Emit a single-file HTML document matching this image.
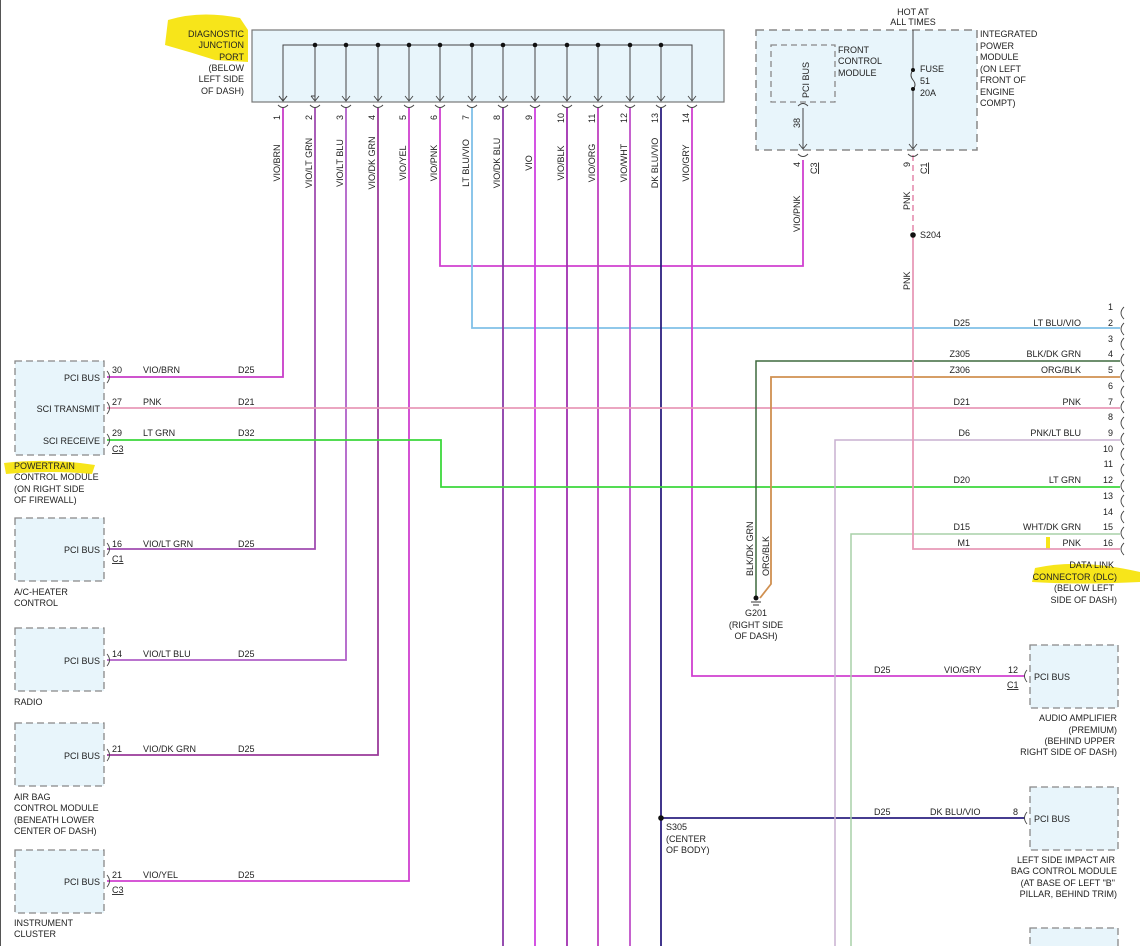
<!DOCTYPE html>
<html><head><meta charset="utf-8"><style>
html,body{margin:0;padding:0;background:#fff}
svg{display:block;font-family:"Liberation Sans",sans-serif;font-size:9.5px;fill:#222}
text{fill:#222}
</style></head><body>
<svg width="1140" height="946" viewBox="0 0 1140 946" xmlns="http://www.w3.org/2000/svg">
<line x1="0.5" y1="0" x2="0.5" y2="946" stroke="#555" stroke-width="1"/>
<!-- highlights -->
<path d="M168,20 Q200,10 240,18 L248,30 L248,62 L215,60 Q190,52 165,45 Z" fill="#f7e51a"/>
<path d="M4,463 Q50,458 95,465 L92,474 Q50,470 6,474 Z" fill="#f7e51a"/>
<path d="M1035,568 Q1080,558 1140,572 L1140,582 Q1080,585 1032,582 Z" fill="#f7e51a"/>
<rect x="1046" y="537" width="4" height="12" fill="#f7e51a"/>

<!-- DJP -->
<rect x="252" y="30" width="472" height="72" fill="#e8f5fb" stroke="#777" stroke-width="1.2"/>
<polyline points="283,100 283,45 692,45 692,100" fill="none" stroke="#444" stroke-width="1"/>
<g stroke="#444" stroke-width="1" fill="none">
<line x1="315" y1="45" x2="315" y2="100"/><line x1="346" y1="45" x2="346" y2="100"/><line x1="378" y1="45" x2="378" y2="100"/><line x1="409" y1="45" x2="409" y2="100"/><line x1="440" y1="45" x2="440" y2="100"/><line x1="472" y1="45" x2="472" y2="100"/><line x1="503" y1="45" x2="503" y2="100"/><line x1="535" y1="45" x2="535" y2="100"/><line x1="567" y1="45" x2="567" y2="100"/><line x1="598" y1="45" x2="598" y2="100"/><line x1="630" y1="45" x2="630" y2="100"/><line x1="661" y1="45" x2="661" y2="100"/>
</g>
<g fill="#111"><circle cx="315" cy="45" r="2.3"/><circle cx="346" cy="45" r="2.3"/><circle cx="378" cy="45" r="2.3"/><circle cx="409" cy="45" r="2.3"/><circle cx="440" cy="45" r="2.3"/><circle cx="472" cy="45" r="2.3"/><circle cx="503" cy="45" r="2.3"/><circle cx="535" cy="45" r="2.3"/><circle cx="567" cy="45" r="2.3"/><circle cx="598" cy="45" r="2.3"/><circle cx="630" cy="45" r="2.3"/><circle cx="661" cy="45" r="2.3"/></g>
<g font-size="9" text-anchor="end"><text x="244" y="37">DIAGNOSTIC</text><text x="244" y="48">JUNCTION</text><text x="244" y="60">PORT</text><text x="244" y="71">(BELOW</text><text x="244" y="82">LEFT SIDE</text><text x="244" y="94">OF DASH)</text></g>

<!-- wires from DJP -->
<g fill="none" stroke-width="1.8">
<polyline points="283,108 283,377 107,377" stroke="#c83cc8"/>
<polyline points="315,108 315,549 107,549" stroke="#a04cb0"/>
<polyline points="346,108 346,660 107,660" stroke="#b060c8"/>
<polyline points="378,108 378,755 107,755" stroke="#9a3a9a"/>
<polyline points="409,108 409,881 107,881" stroke="#d040d0"/>
<polyline points="440,108 440,266 803,266 803,160" stroke="#d040d0"/>
<polyline points="472,108 472,328 1120,328" stroke="#80c0e8"/>
<line x1="503" y1="108" x2="503" y2="946" stroke="#8a3aa8"/>
<line x1="535" y1="108" x2="535" y2="946" stroke="#d040e0"/>
<line x1="567" y1="108" x2="567" y2="946" stroke="#a030b0"/>
<line x1="598" y1="108" x2="598" y2="946" stroke="#c040c0"/>
<line x1="630" y1="108" x2="630" y2="946" stroke="#c050c8"/>
<line x1="661" y1="108" x2="661" y2="946" stroke="#2c2080"/>
<polyline points="692,108 692,676 1025,676" stroke="#d040d0"/>
<line x1="661" y1="818" x2="1025" y2="818" stroke="#2c2080"/>
<line x1="107" y1="408" x2="1120" y2="408" stroke="#e89ab8"/>
<polyline points="107,440 441,440 441,487 1120,487" stroke="#3cd83c"/>
<polyline points="756,598 756,361 1120,361" stroke="#3e6a3e" stroke-width="1.5"/>
<polyline points="760,598 771,584 771,377 1120,377" stroke="#d09050"/>
<polyline points="835,946 835,440 1120,440" stroke="#c8b0d0" stroke-width="1.5"/>
<polyline points="851,946 851,534 1120,534" stroke="#a8d0a8" stroke-width="1.5"/>
<line x1="913" y1="155" x2="913" y2="235" stroke="#e89ab8" stroke-dasharray="6,4"/>
<polyline points="913,235 913,549 1120,549" stroke="#e89ab8"/>
</g>
<!-- pin arrows / cups -->
<g fill="none" stroke="#444" stroke-width="1">
<path d="M279,96 L283,101 L287,96 M315,96 L311,96"/>
</g>
<g font-size="9" fill="#222">
<text transform="translate(280,120) rotate(-90)">1</text><text transform="translate(312,120) rotate(-90)">2</text><text transform="translate(343,120) rotate(-90)">3</text><text transform="translate(375,120) rotate(-90)">4</text><text transform="translate(406,120) rotate(-90)">5</text><text transform="translate(437,120) rotate(-90)">6</text><text transform="translate(469,120) rotate(-90)">7</text><text transform="translate(500,120) rotate(-90)">8</text><text transform="translate(532,120) rotate(-90)">9</text><text transform="translate(564,123) rotate(-90)">10</text><text transform="translate(595,123) rotate(-90)">11</text><text transform="translate(627,123) rotate(-90)">12</text><text transform="translate(658,123) rotate(-90)">13</text><text transform="translate(689,123) rotate(-90)">14</text>
</g>
<g font-size="9" text-anchor="middle">
<text transform="translate(280,163) rotate(-90)">VIO/BRN</text><text transform="translate(312,163) rotate(-90)">VIO/LT GRN</text><text transform="translate(343,163) rotate(-90)">VIO/LT BLU</text><text transform="translate(375,163) rotate(-90)">VIO/DK GRN</text><text transform="translate(406,163) rotate(-90)">VIO/YEL</text><text transform="translate(437,163) rotate(-90)">VIO/PNK</text><text transform="translate(469,163) rotate(-90)">LT BLU/VIO</text><text transform="translate(500,163) rotate(-90)">VIO/DK BLU</text><text transform="translate(532,163) rotate(-90)">VIO</text><text transform="translate(564,163) rotate(-90)">VIO/BLK</text><text transform="translate(595,163) rotate(-90)">VIO/ORG</text><text transform="translate(627,163) rotate(-90)">VIO/WHT</text><text transform="translate(658,163) rotate(-90)">DK BLU/VIO</text><text transform="translate(689,163) rotate(-90)">VIO/GRY</text>
</g>
<g fill="none" stroke="#444" stroke-width="0.9" id="arr">
<path d="M279,96 l4,5 l4,-5 M311,96 l4,5 l4,-5 M342,96 l4,5 l4,-5 M374,96 l4,5 l4,-5 M405,96 l4,5 l4,-5 M436,96 l4,5 l4,-5 M468,96 l4,5 l4,-5 M499,96 l4,5 l4,-5 M531,96 l4,5 l4,-5 M563,96 l4,5 l4,-5 M594,96 l4,5 l4,-5 M626,96 l4,5 l4,-5 M657,96 l4,5 l4,-5 M688,96 l4,5 l4,-5"/>
<path d="M278,105 q5,5 10,0 M310,105 q5,5 10,0 M341,105 q5,5 10,0 M373,105 q5,5 10,0 M404,105 q5,5 10,0 M435,105 q5,5 10,0 M467,105 q5,5 10,0 M498,105 q5,5 10,0 M530,105 q5,5 10,0 M562,105 q5,5 10,0 M593,105 q5,5 10,0 M625,105 q5,5 10,0 M656,105 q5,5 10,0 M687,105 q5,5 10,0"/>
</g>

<!-- IPM -->
<rect x="756" y="30" width="221" height="120" fill="#e8f5fb" stroke="#888" stroke-width="1.5" stroke-dasharray="8,5"/>
<rect x="771" y="45" width="64" height="57" fill="#e8f5fb" stroke="#888" stroke-width="1.3" stroke-dasharray="6,4"/>
<line x1="803" y1="108" x2="803" y2="148" stroke="#444"/>
<line x1="913" y1="30" x2="913" y2="70" stroke="#444"/><line x1="913" y1="89" x2="913" y2="148" stroke="#444"/>
<path d="M913,70 q-4,5 0,10 q4,5 0,9" fill="none" stroke="#444"/>
<circle cx="913" cy="70" r="2" fill="#111"/><circle cx="913" cy="89" r="2" fill="#111"/>
<path d="M799,144 l4,5 l4,-5 M909,144 l4,5 l4,-5 M798,106 q5,-5 10,0 M798,154 q5,5 10,0 M908,154 q5,5 10,0" fill="none" stroke="#444" stroke-width="0.9"/>
<circle cx="913" cy="235" r="2.8" fill="#111"/>
<g font-size="9"><text x="913" y="15" text-anchor="middle">HOT AT</text><text x="913" y="25" text-anchor="middle">ALL TIMES</text>
<text x="838" y="53">FRONT</text><text x="838" y="64">CONTROL</text><text x="838" y="76">MODULE</text>
<text transform="translate(809,98) rotate(-90)">PCI BUS</text>
<text x="920" y="72">FUSE</text><text x="920" y="84">51</text><text x="920" y="96">20A</text>
<text x="980" y="37">INTEGRATED</text><text x="980" y="49">POWER</text><text x="980" y="60">MODULE</text><text x="980" y="72">(ON LEFT</text><text x="980" y="83">FRONT OF</text><text x="980" y="95">ENGINE</text><text x="980" y="106">COMPT)</text>
<text transform="translate(800,128) rotate(-90)">38</text>
<text transform="translate(800,167) rotate(-90)">4</text><text transform="translate(817,174) rotate(-90)" text-decoration="underline">C3</text>
<text transform="translate(910,167) rotate(-90)">9</text><text transform="translate(927,174) rotate(-90)" text-decoration="underline">C1</text>
<text transform="translate(800,232) rotate(-90)">VIO/PNK</text>
<text transform="translate(910,210) rotate(-90)">PNK</text>
<text transform="translate(910,290) rotate(-90)">PNK</text>
<text x="920" y="238">S204</text>
</g>

<!-- DLC -->
<g font-size="9" text-anchor="end">
<text x="1113" y="310">1</text><text x="1113" y="326">2</text><text x="1113" y="342">3</text><text x="1113" y="357">4</text><text x="1113" y="373">5</text><text x="1113" y="389">6</text><text x="1113" y="405">7</text><text x="1113" y="420">8</text><text x="1113" y="436">9</text><text x="1113" y="452">10</text><text x="1113" y="467">11</text><text x="1113" y="483">12</text><text x="1113" y="499">13</text><text x="1113" y="515">14</text><text x="1113" y="530">15</text><text x="1113" y="546">16</text>
<text x="1081" y="326">LT BLU/VIO</text><text x="1081" y="357">BLK/DK GRN</text><text x="1081" y="373">ORG/BLK</text><text x="1081" y="405">PNK</text><text x="1081" y="436">PNK/LT BLU</text><text x="1081" y="483">LT GRN</text><text x="1081" y="530">WHT/DK GRN</text><text x="1081" y="546">PNK</text>
<text x="970" y="326">D25</text><text x="970" y="357">Z305</text><text x="970" y="373">Z306</text><text x="970" y="405">D21</text><text x="970" y="436">D6</text><text x="970" y="483">D20</text><text x="970" y="530">D15</text><text x="970" y="546">M1</text>
<text x="1114" y="568">DATA LINK</text><text x="1117" y="580">CONNECTOR (DLC)</text><text x="1114" y="591">(BELOW LEFT</text><text x="1117" y="603">SIDE OF DASH)</text>
</g>
<path fill="none" stroke="#444" stroke-width="0.9" d="M1124,307 q-6,6 0,12 M1124,323 q-6,6 0,12 M1124,338 q-6,6 0,12 M1124,354 q-6,6 0,12 M1124,370 q-6,6 0,12 M1124,386 q-6,6 0,12 M1124,401 q-6,6 0,12 M1124,417 q-6,6 0,12 M1124,433 q-6,6 0,12 M1124,448 q-6,6 0,12 M1124,464 q-6,6 0,12 M1124,480 q-6,6 0,12 M1124,495 q-6,6 0,12 M1124,511 q-6,6 0,12 M1124,527 q-6,6 0,12 M1124,543 q-6,6 0,12"/>
<!-- ground -->
<circle cx="756" cy="598" r="2.5" fill="#111"/><line x1="751" y1="602" x2="761" y2="602" stroke="#333"/><line x1="753" y1="605" x2="759" y2="605" stroke="#333"/>
<g font-size="9"><text transform="translate(753,576) rotate(-90)">BLK/DK GRN</text><text transform="translate(769,576) rotate(-90)">ORG/BLK</text>
<text x="756" y="616" text-anchor="middle">G201</text><text x="756" y="628" text-anchor="middle">(RIGHT SIDE</text><text x="756" y="639" text-anchor="middle">OF DASH)</text></g>

<!-- left modules -->
<g fill="#e8f5fb" stroke="#888" stroke-width="1.3" stroke-dasharray="7,4">
<rect x="15" y="361" width="89" height="94"/><rect x="15" y="518" width="89" height="63"/><rect x="15" y="628" width="89" height="63"/><rect x="15" y="723" width="89" height="63"/><rect x="15" y="850" width="89" height="63"/>
<rect x="1030" y="645" width="88" height="63"/><rect x="1030" y="787" width="88" height="63"/><rect x="1030" y="928" width="88" height="30"/>
</g>
<path fill="none" stroke="#444" stroke-width="0.9" d="M107,371 q5,6 0,12 M107,402 q5,6 0,12 M107,434 q5,6 0,12 M107,543 q5,6 0,12 M107,654 q5,6 0,12 M107,749 q5,6 0,12 M107,875 q5,6 0,12 M1027,670 q-5,6 0,12 M1027,812 q-5,6 0,12"/>
<g font-size="9">
<text x="100" y="381" text-anchor="end">PCI BUS</text><text x="100" y="412" text-anchor="end">SCI TRANSMIT</text><text x="100" y="444" text-anchor="end">SCI RECEIVE</text>
<text x="100" y="553" text-anchor="end">PCI BUS</text><text x="100" y="664" text-anchor="end">PCI BUS</text><text x="100" y="759" text-anchor="end">PCI BUS</text><text x="100" y="885" text-anchor="end">PCI BUS</text>
<text x="112" y="373">30</text><text x="143" y="373">VIO/BRN</text><text x="238" y="373">D25</text>
<text x="112" y="405">27</text><text x="143" y="405">PNK</text><text x="238" y="405">D21</text>
<text x="112" y="436">29</text><text x="143" y="436">LT GRN</text><text x="238" y="436">D32</text>
<text x="112" y="452" text-decoration="underline">C3</text>
<text x="14" y="469">POWERTRAIN</text><text x="14" y="480">CONTROL MODULE</text><text x="14" y="492">(ON RIGHT SIDE</text><text x="14" y="503">OF FIREWALL)</text>
<text x="112" y="547">16</text><text x="143" y="547">VIO/LT GRN</text><text x="238" y="547">D25</text><text x="112" y="562" text-decoration="underline">C1</text>
<text x="14" y="595">A/C-HEATER</text><text x="14" y="606">CONTROL</text>
<text x="112" y="657">14</text><text x="143" y="657">VIO/LT BLU</text><text x="238" y="657">D25</text>
<text x="14" y="705">RADIO</text>
<text x="112" y="752">21</text><text x="143" y="752">VIO/DK GRN</text><text x="238" y="752">D25</text>
<text x="14" y="800">AIR BAG</text><text x="14" y="811">CONTROL MODULE</text><text x="14" y="823">(BENEATH LOWER</text><text x="14" y="834">CENTER OF DASH)</text>
<text x="112" y="878">21</text><text x="143" y="878">VIO/YEL</text><text x="238" y="878">D25</text><text x="112" y="893" text-decoration="underline">C3</text>
<text x="14" y="926">INSTRUMENT</text><text x="14" y="937">CLUSTER</text>
<text x="1034" y="680">PCI BUS</text><text x="1034" y="822">PCI BUS</text>
<text x="874" y="673">D25</text><text x="944" y="673">VIO/GRY</text><text x="1008" y="673">12</text><text x="1007" y="688" text-decoration="underline">C1</text>
<text x="874" y="815">D25</text><text x="930" y="815">DK BLU/VIO</text><text x="1013" y="815">8</text>
<text x="666" y="830">S305</text><text x="666" y="842">(CENTER</text><text x="666" y="853">OF BODY)</text>
</g>
<g font-size="9" text-anchor="end">
<text x="1117" y="721">AUDIO AMPLIFIER</text><text x="1117" y="733">(PREMIUM)</text><text x="1115" y="744">(BEHIND UPPER</text><text x="1117" y="755">RIGHT SIDE OF DASH)</text>
<text x="1115" y="863">LEFT SIDE IMPACT AIR</text><text x="1117" y="874">BAG CONTROL MODULE</text><text x="1115" y="886">(AT BASE OF LEFT "B"</text><text x="1117" y="897">PILLAR, BEHIND TRIM)</text>
</g>
<circle cx="661" cy="818" r="2.8" fill="#111"/>
</svg>
</body></html>
